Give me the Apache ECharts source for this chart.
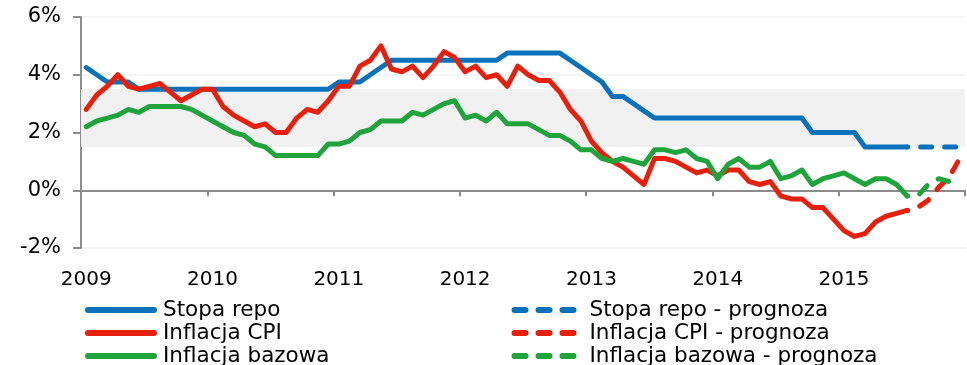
<!DOCTYPE html>
<html>
<head>
<meta charset="utf-8">
<script src="https://cdn.jsdelivr.net/npm/echarts@6/dist/echarts.min.js"></script>
<style>
  html, body { margin: 0; padding: 0; background: #fff; }
  #chart { width: 967px; height: 365px; }
</style>
</head>
<body>
<div id="chart"></div>
<script>
// Year tick labels and month codes for the category axis
const yearLabels = ['2009', '2010', '2011', '2012', '2013', '2014', '2015'];
const monthCodes = ['01', '02', '03', '04', '05', '06', '07', '08', '09', '10', '11', '12'];
const months = [];
yearLabels.forEach(y => monthCodes.forEach(m => months.push(y + '-' + m)));

// NBP reference rate, %, Jan 2009 - Jul 2015
const repoRate = [
  4.25, 4.0, 3.75, 3.75, 3.75, 3.5, 3.5, 3.5, 3.5, 3.5, 3.5, 3.5,
  3.5, 3.5, 3.5, 3.5, 3.5, 3.5, 3.5, 3.5, 3.5, 3.5, 3.5, 3.5,
  3.75, 3.75, 3.75, 4.0, 4.25, 4.5, 4.5, 4.5, 4.5, 4.5, 4.5, 4.5,
  4.5, 4.5, 4.5, 4.5, 4.75, 4.75, 4.75, 4.75, 4.75, 4.75, 4.5, 4.25,
  4.0, 3.75, 3.25, 3.25, 3.0, 2.75, 2.5, 2.5, 2.5, 2.5, 2.5, 2.5,
  2.5, 2.5, 2.5, 2.5, 2.5, 2.5, 2.5, 2.5, 2.5, 2.0, 2.0, 2.0,
  2.0, 2.0, 1.5, 1.5, 1.5, 1.5, 1.5
];

// CPI inflation y/y, %
const cpiInflation = [
  2.8, 3.3, 3.6, 4.0, 3.6, 3.5, 3.6, 3.7, 3.4, 3.1, 3.3, 3.5,
  3.5, 2.9, 2.6, 2.4, 2.2, 2.3, 2.0, 2.0, 2.5, 2.8, 2.7, 3.1,
  3.6, 3.6, 4.3, 4.5, 5.0, 4.2, 4.1, 4.3, 3.9, 4.3, 4.8, 4.6,
  4.1, 4.3, 3.9, 4.0, 3.6, 4.3, 4.0, 3.8, 3.8, 3.4, 2.8, 2.4,
  1.7, 1.3, 1.0, 0.8, 0.5, 0.2, 1.1, 1.1, 1.0, 0.8, 0.6, 0.7,
  0.5, 0.7, 0.7, 0.3, 0.2, 0.3, -0.2, -0.3, -0.3, -0.6, -0.6, -1.0,
  -1.4, -1.6, -1.5, -1.1, -0.9, -0.8, -0.7
];

// Core inflation y/y, %
const coreInflation = [
  2.2, 2.4, 2.5, 2.6, 2.8, 2.7, 2.9, 2.9, 2.9, 2.9, 2.8, 2.6,
  2.4, 2.2, 2.0, 1.9, 1.6, 1.5, 1.2, 1.2, 1.2, 1.2, 1.2, 1.6,
  1.6, 1.7, 2.0, 2.1, 2.4, 2.4, 2.4, 2.7, 2.6, 2.8, 3.0, 3.1,
  2.5, 2.6, 2.4, 2.7, 2.3, 2.3, 2.3, 2.1, 1.9, 1.9, 1.7, 1.4,
  1.4, 1.1, 1.0, 1.1, 1.0, 0.9, 1.4, 1.4, 1.3, 1.4, 1.1, 1.0,
  0.4, 0.9, 1.1, 0.8, 0.8, 1.0, 0.4, 0.5, 0.7, 0.2, 0.4, 0.5,
  0.6, 0.4, 0.2, 0.4, 0.4, 0.2, -0.2
];

// Forecast path, Jul - Dec 2015
const forecastMonths = ['2015-07', '2015-08', '2015-09', '2015-10', '2015-11', '2015-12'];
const repoForecast = [1.5, 1.5, 1.5, 1.5, 1.5, 1.5];
const cpiForecast = [-0.7, -0.6, -0.35, 0.1, 0.45, 1.1];
const coreForecast = [-0.2, -0.2, 0.2, 0.4, 0.3, 0.3];

// Inflation target tolerance band, %
const targetBand = [1.5, 3.5];

const yTicks = { min: -2, max: 6, interval: 2 };

const BLUE = '#0a72ba';
const RED = '#e6200c';
const GREEN = '#1ea43a';
const AXIS = '#8c8c8c';
const FONT = 'DejaVu Sans';

function pairs(cats, vals) { return cats.map((c, i) => [c, vals[i]]); }

function solid(name, color, data, extra) {
  return Object.assign({
    name: name, type: 'line', data: data, symbol: 'none', xAxisIndex: 0,
    lineStyle: { color: color, width: 5, cap: 'round', join: 'round' },
    itemStyle: { color: color }
  }, extra || {});
}
function dashed(name, color, data) {
  return {
    name: name, type: 'line', data: data, symbol: 'none', xAxisIndex: 0,
    lineStyle: { color: color, width: 5, type: [11, 13], dashOffset: 10.5, cap: 'round', join: 'round' },
    itemStyle: { color: color }
  };
}

function legendBlock(left, names) {
  return {
    orient: 'vertical', left: left, top: 298.5, height: 80, padding: 0,
    itemWidth: 66, itemHeight: 14, itemGap: 0,
    selectedMode: false,
    // legend keys: thick line only, no marker in the middle
    itemStyle: { color: 'rgba(0,0,0,0)', borderWidth: 0, opacity: 0 },
    lineStyle: { width: 6, dashOffset: 0, cap: 'round' },
    textStyle: { fontSize: 21.5, lineHeight: 23, color: '#000', fontFamily: FONT, padding: [0, 0, 0, 4] },
    data: names
  };
}

const chart = echarts.init(document.getElementById('chart'), null, { renderer: 'canvas' });
chart.setOption({
  animation: false,
  backgroundColor: '#fff',
  textStyle: { fontFamily: FONT },
  grid: { left: 81, right: 2, top: 17, bottom: 117, containLabel: false },
  legend: [
    legendBlock(85, ['Stopa repo', 'Inflacja CPI', 'Inflacja bazowa']),
    legendBlock(511.5, ['Stopa repo - prognoza', 'Inflacja CPI - prognoza', 'Inflacja bazowa - prognoza'])
  ],
  xAxis: [
    {
      type: 'category', data: months, boundaryGap: true, position: 'bottom',
      axisLine: { show: false, onZero: false },
      axisTick: { show: false },
      splitLine: { show: false },
      axisLabel: {
        interval: 11, margin: 22, fontSize: 20, color: '#000', fontFamily: FONT,
        formatter: (v, i) => yearLabels[Math.floor(i / 12)]
      }
    },
    {
      type: 'category', data: months, boundaryGap: true, position: 'bottom',
      axisLine: { show: true, onZero: true, lineStyle: { color: AXIS, width: 2 } },
      axisTick: { show: true, interval: 11, length: 6, lineStyle: { color: AXIS, width: 2 } },
      axisLabel: { show: false },
      splitLine: { show: false }
    }
  ],
  yAxis: {
    type: 'value', min: yTicks.min, max: yTicks.max, interval: yTicks.interval,
    axisLine: { show: true, lineStyle: { color: AXIS, width: 2 } },
    axisTick: { show: true, length: 8, lineStyle: { color: AXIS, width: 2 } },
    splitLine: { show: true, lineStyle: { color: '#f2f2f2', width: 1.5 } },
    axisLabel: { formatter: '{value}%', fontSize: 21, color: '#000', fontFamily: FONT, margin: 20 }
  },
  series: [
    solid('Stopa repo', BLUE, repoRate, {
      markArea: {
        silent: true,
        itemStyle: { color: '#f1f1f1' },
        data: [[{ yAxis: targetBand[0] }, { yAxis: targetBand[1] }]]
      }
    }),
    solid('Inflacja CPI', RED, cpiInflation),
    solid('Inflacja bazowa', GREEN, coreInflation),
    dashed('Stopa repo - prognoza', BLUE, pairs(forecastMonths, repoForecast)),
    dashed('Inflacja CPI - prognoza', RED, pairs(forecastMonths, cpiForecast)),
    dashed('Inflacja bazowa - prognoza', GREEN, pairs(forecastMonths, coreForecast))
  ]
});
</script>
</body>
</html>
